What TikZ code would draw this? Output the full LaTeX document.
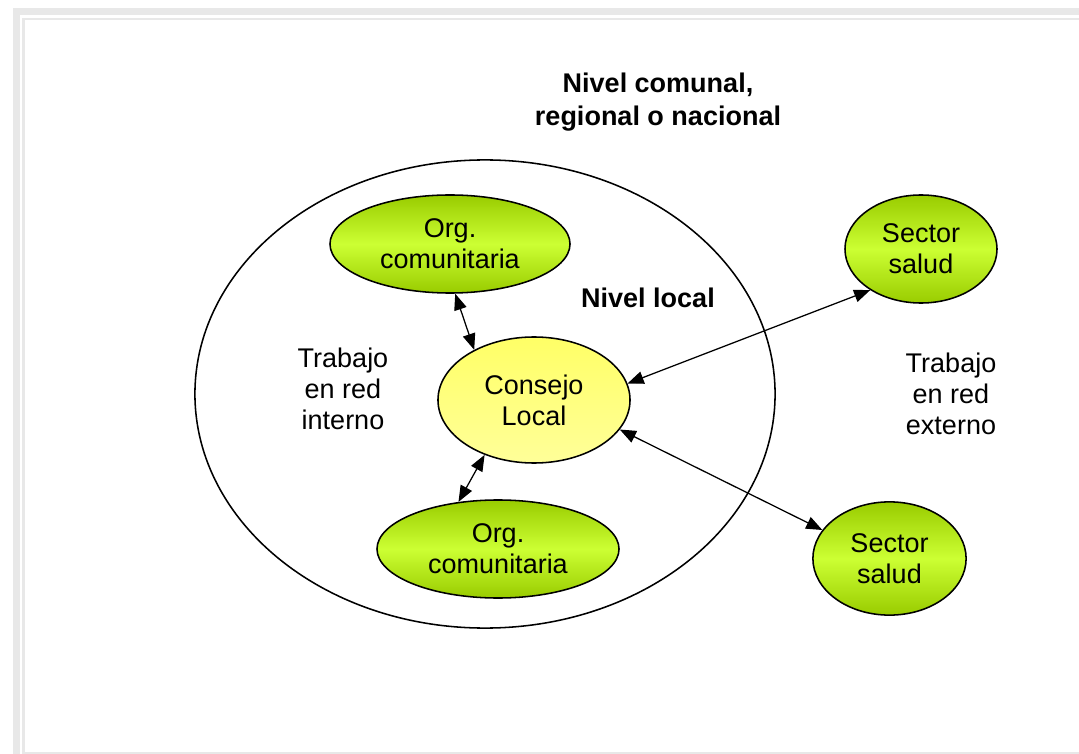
\documentclass[tikz,border=0pt]{standalone}
\usepackage{fontspec}
\setmainfont{Liberation Sans}
\usetikzlibrary{shapes.geometric,arrows.meta}

\definecolor{verdeb}{HTML}{CCFF33}
\definecolor{verdes}{HTML}{99CC00}
\definecolor{gialloa}{HTML}{FFFF66}
\definecolor{giallob}{HTML}{FFFF99}
\definecolor{cornice}{HTML}{E8E8E8}

\tikzset{
  verde/.style={ellipse, draw, line width=1.1pt, inner sep=0pt, align=center,
    top color=verdes, bottom color=verdes, middle color=verdeb},
  giallo/.style={ellipse, draw, line width=1.1pt, inner sep=0pt, align=center,
    top color=gialloa, bottom color=giallob},
  testo/.style={align=center}
}

\begin{document}
\begin{tikzpicture}[x=0.025cm, y=-0.025cm, >={Triangle[length=11.5pt, width=9pt]},
  font=\fontsize{19.2}{22}\selectfont]
\useasboundingbox (0,0) rectangle (1079,754);
% cornice grigia
\fill[cornice] (13,8) rectangle (1079,754);
\fill[white] (20,15) rectangle (1079,754);
\draw[cornice, line width=2pt] (23.5,19) rectangle (1100,753);

% cerchio grande
\draw[line width=1.1pt] (485,394) ellipse [x radius=7.25cm, y radius=5.85cm];

\node[testo, font=\fontsize{19.2}{23.5}\selectfont\bfseries] (titolo) at (658,102) {Nivel comunal,\\regional o nacional};
\node[font=\fontsize{19.2}{22}\selectfont\bfseries] (locale) at (648,298) {Nivel local};
\node[testo] (interno) at (343,389) {Trabajo\\en red\\interno};
\node[testo] (esterno) at (951,394) {Trabajo\\en red\\externo};

\node[verde, minimum width=6cm, minimum height=2.45cm] (org1) at (450,244) {Org.\\comunitaria};
\node[giallo, minimum width=4.8cm, minimum height=3.15cm] (consejo) at (534,400) {Consejo\\Local};
\node[verde, minimum width=6.05cm, minimum height=2.45cm] (org2) at (498,549) {Org.\\comunitaria};
\node[verde, minimum width=3.8cm, minimum height=2.7cm] (sector1) at (921,249) {Sector\\salud};
\node[verde, minimum width=3.83cm, minimum height=2.83cm] (sector2) at (889.5,558.5) {Sector\\salud};

% frecce
\draw[<->, line width=0.9pt] (org1.276) -- (consejo.140);
\draw[<->, line width=0.9pt] (consejo.228) -- (org2.130);
\draw[<->, line width=0.9pt] (consejo.10) -- (sector1.219);
\draw[<->, line width=0.9pt] (consejo.341) -- (sector2.157);
\end{tikzpicture}
\end{document}
